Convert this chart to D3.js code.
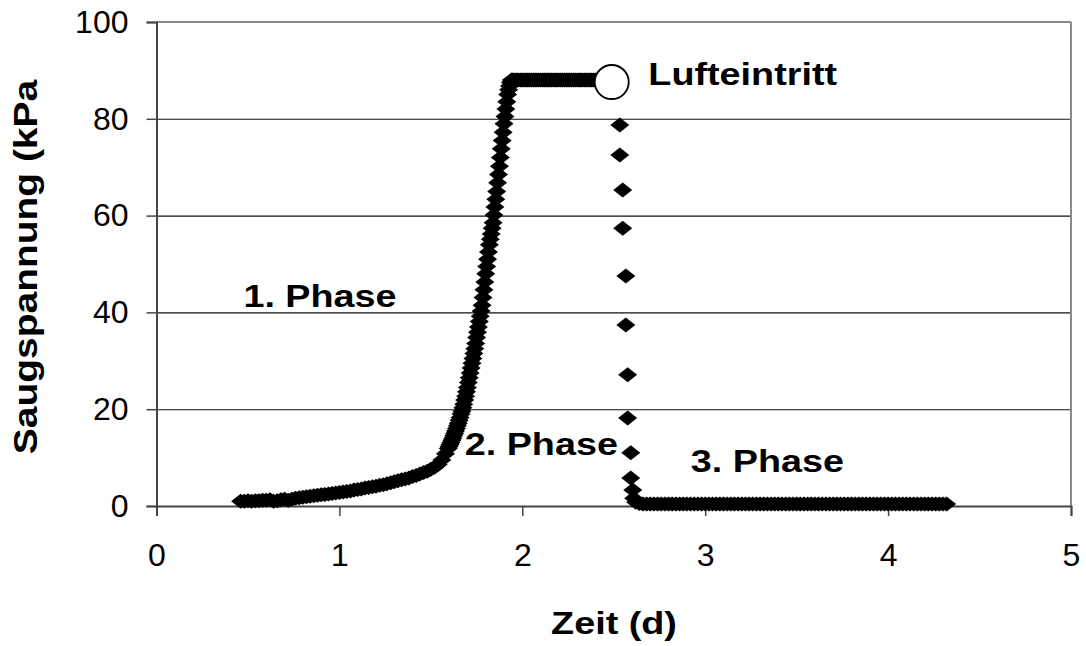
<!DOCTYPE html>
<html>
<head>
<meta charset="utf-8">
<script src="https://cdn.jsdelivr.net/npm/d3@7"></script>
<style>
  html, body { margin: 0; padding: 0; background: #fff; }
  svg { display: block; font-family: "Liberation Sans", Arial, sans-serif; }
</style>
</head>
<body>
<svg id="chart" width="1086" height="646"></svg>
<script>
// ---- data ----
const xTicks = [0, 1, 2, 3, 4, 5];
const yTicks = [0, 20, 40, 60, 80, 100];

// Phase 1: slow rise
const phase1T = [0.46,0.48,0.50,0.52,0.54,0.56,0.58,0.60,0.62,0.64,0.66,0.68,0.70,0.72,0.74,0.76,0.78,0.80,0.82,0.84,0.86,0.88,0.90,0.92,0.94,0.96,0.98,1.00,1.02,1.04,1.06,1.08,1.10,1.12,1.14,1.16,1.18,1.20,1.22,1.24,1.26,1.28,1.30,1.32,1.34,1.36,1.38,1.40,1.42,1.44,1.46,1.48,1.50,1.52,1.54,1.56,1.58,1.595];
const phase1Y = [1.0,1.0,1.1,1.0,1.1,1.1,1.2,1.2,1.3,1.0,1.1,1.3,1.4,1.2,1.4,1.6,1.7,1.8,1.9,2.0,2.1,2.2,2.3,2.4,2.5,2.6,2.7,2.8,2.9,3.0,3.1,3.3,3.4,3.5,3.7,3.8,4.0,4.1,4.3,4.4,4.6,4.8,5.0,5.2,5.4,5.6,5.8,6.1,6.3,6.6,6.9,7.2,7.6,8.0,8.6,9.5,10.8,11.9];

// Phase 2: steep rise
const phase2T = [1.600,1.605,1.610,1.615,1.620,1.625,1.630,1.635,1.640,1.645,1.650,1.655,1.660,1.665,1.670,1.675,1.680,1.685,1.690,1.695,1.700,1.705,1.710,1.715,1.720,1.725,1.730,1.735,1.740,1.745,1.750,1.755,1.760,1.765,1.770,1.775,1.780,1.785,1.790,1.795,1.800,1.805,1.810,1.815,1.820,1.825,1.830,1.835,1.840,1.845,1.850,1.855,1.860,1.865,1.870,1.875,1.880,1.885,1.890,1.895,1.900,1.905,1.910,1.915,1.920,1.925,1.930,1.935,1.940,1.945];
const phase2Y = [12.3,12.7,13.1,13.6,14.0,14.5,15.0,15.5,16.0,16.6,17.1,17.7,18.3,19.0,19.6,20.3,21.0,21.9,22.7,23.6,24.5,25.5,26.5,27.5,28.5,29.5,30.5,31.5,32.5,33.6,34.8,35.9,37.0,38.1,39.2,40.3,41.5,43.1,44.7,46.3,48.0,49.5,51.0,52.5,54.0,55.1,56.2,57.4,58.5,60.1,61.8,63.4,65.0,66.8,68.5,70.2,72.0,73.8,75.5,77.2,79.0,80.5,82.0,83.5,85.0,86.0,86.8,87.5,88.0,88.0];

// Plateau before air entry
const plateauT = [1.95,1.96,1.97,1.98,1.99,2.00,2.01,2.02,2.03,2.04,2.05,2.06,2.07,2.08,2.09,2.10,2.11,2.12,2.13,2.14,2.15,2.16,2.17,2.18,2.19,2.20,2.21,2.22,2.23,2.24,2.25,2.26,2.27,2.28,2.29,2.30,2.31,2.32,2.33,2.34,2.35,2.36,2.37,2.38,2.39,2.40,2.41,2.42,2.43,2.44,2.45,2.46];
const plateauY = [88.0,88.0,88.0,88.0,88.0,88.0,88.0,88.0,88.0,88.0,88.0,88.0,88.0,88.0,88.0,88.0,88.0,88.0,88.0,88.0,88.0,88.0,88.0,88.0,88.0,88.0,88.0,88.0,88.0,88.0,88.0,88.0,88.0,88.0,88.0,88.0,88.0,88.0,88.0,88.0,88.0,88.0,88.0,88.0,88.0,88.0,88.0,88.0,88.0,88.0,88.0,88.0];

// Drop after air entry
const dropT = [2.533,2.533,2.549,2.549,2.566,2.566,2.576,2.576,2.593,2.593,2.604,2.609];
const dropY = [78.7,72.5,65.3,57.4,47.5,37.4,27.1,18.2,11.0,5.8,3.3,1.6];

// Phase 3: near zero
const phase3T = [2.62,2.64,2.66,2.68,2.70,2.72,2.74,2.76,2.78,2.80,2.82,2.84,2.86,2.88,2.90,2.92,2.94,2.96,2.98,3.00,3.02,3.04,3.06,3.08,3.10,3.12,3.14,3.16,3.18,3.20,3.22,3.24,3.26,3.28,3.30,3.32,3.34,3.36,3.38,3.40,3.42,3.44,3.46,3.48,3.50,3.52,3.54,3.56,3.58,3.60,3.62,3.64,3.66,3.68,3.70,3.72,3.74,3.76,3.78,3.80,3.82,3.84,3.86,3.88,3.90,3.92,3.94,3.96,3.98,4.00,4.02,4.04,4.06,4.08,4.10,4.12,4.14,4.16,4.18,4.20,4.22,4.24,4.26,4.28,4.30,4.32];
const phase3Y = [0.8,0.5,0.4,0.4,0.4,0.4,0.4,0.4,0.4,0.4,0.4,0.4,0.4,0.4,0.4,0.4,0.4,0.4,0.4,0.4,0.4,0.4,0.4,0.4,0.4,0.4,0.4,0.4,0.4,0.4,0.4,0.4,0.4,0.4,0.4,0.4,0.4,0.4,0.4,0.4,0.4,0.4,0.4,0.4,0.4,0.4,0.4,0.4,0.4,0.4,0.4,0.4,0.4,0.4,0.4,0.4,0.4,0.4,0.4,0.4,0.4,0.4,0.4,0.4,0.4,0.4,0.4,0.4,0.4,0.4,0.4,0.4,0.4,0.4,0.4,0.4,0.4,0.4,0.4,0.4,0.4,0.4,0.4,0.4,0.4,0.4];

// Air entry point (open circle)
const airEntryT = [2.489];
const airEntryY = [87.6];

// Annotations
const labelTexts = ["1. Phase", "2. Phase", "3. Phase", "Lufteintritt"];
const labelT = [0.894, 2.104, 3.34, 3.205];
const labelY = [41.1, 10.5, 7.0, 87.0];

const xTitle = "Zeit (d)";
const yTitle = "Saugspannung (kPa";

// ---- drawing ----
const svg = d3.select("#chart");
const plotLeft = 156.5, plotRight = 1071, plotTop = 22, plotBottom = 506;

const x = d3.scaleLinear().domain([0, 5]).range([plotLeft, plotRight]);
const y = d3.scaleLinear().domain([0, 100]).range([plotBottom, plotTop]);

// gridlines
svg.append("g")
  .attr("transform", `translate(${plotLeft},0)`)
  .call(d3.axisLeft(y).tickValues([20, 40, 60, 80]).tickSize(-(plotRight - plotLeft)).tickFormat(""))
  .call(g => g.select(".domain").remove())
  .call(g => g.selectAll("line").attr("stroke", "#111").attr("stroke-width", 1.1));

// plot frame top/right (gray)
svg.append("line").attr("x1", plotLeft).attr("x2", plotRight).attr("y1", y(100)).attr("y2", y(100))
  .attr("stroke", "#8a8a8a").attr("stroke-width", 2);
svg.append("line").attr("x1", plotRight).attr("x2", plotRight).attr("y1", y(100)).attr("y2", y(0))
  .attr("stroke", "#8a8a8a").attr("stroke-width", 2);

// y axis
const yAxis = svg.append("g")
  .attr("transform", `translate(${plotLeft},0)`)
  .call(d3.axisLeft(y).tickValues(yTicks).tickSize(10).tickPadding(18).tickFormat(d3.format("d")));
yAxis.select(".domain").attr("stroke", "#444").attr("stroke-width", 2);
yAxis.selectAll("line").attr("stroke", "#444").attr("stroke-width", 1.5);
yAxis.selectAll("text").attr("font-size", 32).attr("fill", "#000")
  .attr("font-family", "'Liberation Sans', Arial, sans-serif");

// x axis
const xAxis = svg.append("g")
  .attr("transform", `translate(0,${plotBottom})`)
  .call(d3.axisBottom(x).tickValues(xTicks).tickSize(10).tickPadding(27).tickFormat(d3.format("d")));
xAxis.select(".domain").attr("stroke", "#444").attr("stroke-width", 2);
xAxis.selectAll("line").attr("stroke", "#444").attr("stroke-width", 1.5);
xAxis.selectAll("text").attr("font-size", 32).attr("fill", "#000")
  .attr("font-family", "'Liberation Sans', Arial, sans-serif");

// data points (diamonds)
const diamond = "M0,-7.5L9.5,0L0,7.5L-9.5,0Z";
const series = [
  [phase1T, phase1Y], [phase2T, phase2Y], [plateauT, plateauY], [dropT, dropY], [phase3T, phase3Y]
];
const pts = [];
series.forEach(([ts, ys]) => ts.forEach((t, i) => pts.push([t, ys[i]])));
svg.append("g").selectAll("path").data(pts).join("path")
  .attr("d", diamond)
  .attr("transform", d => `translate(${x(d[0])},${y(d[1])})`)
  .attr("fill", "#000");

// air entry marker
svg.append("g").selectAll("circle").data(airEntryT.map((t, i) => [t, airEntryY[i]])).join("circle")
  .attr("cx", d => x(d[0])).attr("cy", d => y(d[1])).attr("r", 17)
  .attr("fill", "#fff").attr("stroke", "#000").attr("stroke-width", 1.8);

// annotation labels
const stretch = 1.18;
function stretchText(sel) {
  sel.each(function () {
    const len = this.getComputedTextLength();
    d3.select(this).attr("textLength", len * stretch).attr("lengthAdjust", "spacingAndGlyphs");
  });
}
svg.append("g").selectAll("text").data(labelTexts).join("text")
  .attr("x", (d, i) => x(labelT[i]))
  .attr("y", (d, i) => y(labelY[i]))
  .attr("text-anchor", "middle")
  .attr("font-size", 32).attr("font-weight", "bold").attr("fill", "#000")
  .text(d => d)
  .call(stretchText);

// axis titles
svg.append("text").attr("x", 614).attr("y", 634).attr("text-anchor", "middle")
  .attr("font-size", 32).attr("font-weight", "bold").text(xTitle).call(stretchText);
svg.append("text").attr("transform", "translate(37,267) rotate(-90)").attr("text-anchor", "middle")
  .attr("font-size", 33).attr("font-weight", "bold").text(yTitle).call(stretchText);
</script>
</body>
</html>
